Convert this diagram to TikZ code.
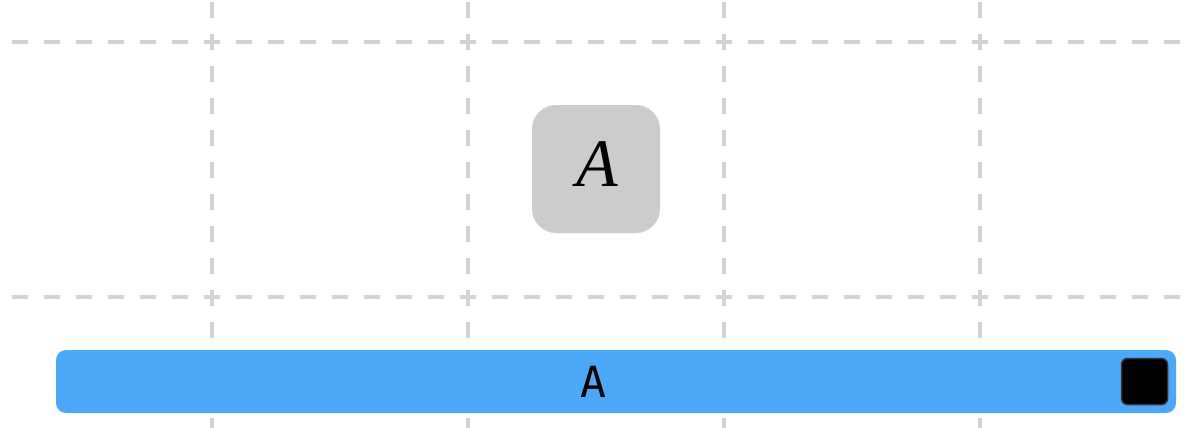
\documentclass[tikz,border=0pt]{standalone}
\usepackage{fontspec}
\newfontfamily\monofnt{DejaVu Sans Mono}
\newfontfamily\serifit{Liberation Serif}
\definecolor{gridgray}{HTML}{D3D3D3}
\definecolor{boxgray}{HTML}{CCCCCC}
\definecolor{barblue}{HTML}{4DA8F7}
\definecolor{sqborder}{HTML}{333333}
\tikzset{
  gridline/.style={draw=gridgray, line width=3.5pt, dash pattern=on 16pt off 16pt},
  graybox/.style={fill=boxgray, rounded corners=24pt, minimum width=128pt, minimum height=128pt, inner sep=0pt},
  bluebar/.style={fill=barblue, rounded corners=10pt, minimum width=1120pt, minimum height=63pt, inner sep=0pt},
  blacksq/.style={fill=black, draw=sqborder, line width=1.5pt, rounded corners=6pt, minimum width=46pt, minimum height=46pt, inner sep=0pt},
  mathlbl/.style={font=\serifit\itshape\fontsize{68}{68}\selectfont, inner sep=0pt},
  monolbl/.style={font=\monofnt\fontsize{43}{43}\selectfont, inner sep=0pt}
}
\begin{document}
\begin{tikzpicture}[x=1pt,y=-1pt]
\useasboundingbox (0,0) rectangle (1196,428);
% grid
\foreach \yy in {42,297} {
  \draw[gridline] (12,\yy) -- (1181,\yy);
}
\foreach \xx in {212,468,724,980} {
  \draw[gridline] (\xx,2) -- (\xx,440);
}
% gray box
\node[graybox] (boxA) at (596,169) {};
\node[mathlbl] (txtA) at (597,164.5) {A};
% blue bar
\node[bluebar] (bar) at (616,381.5) {};
\node[monolbl] (barA) at (593,382) {A};
\node[blacksq] (sq) at (1144.5,381.5) {};
\end{tikzpicture}
\end{document}
